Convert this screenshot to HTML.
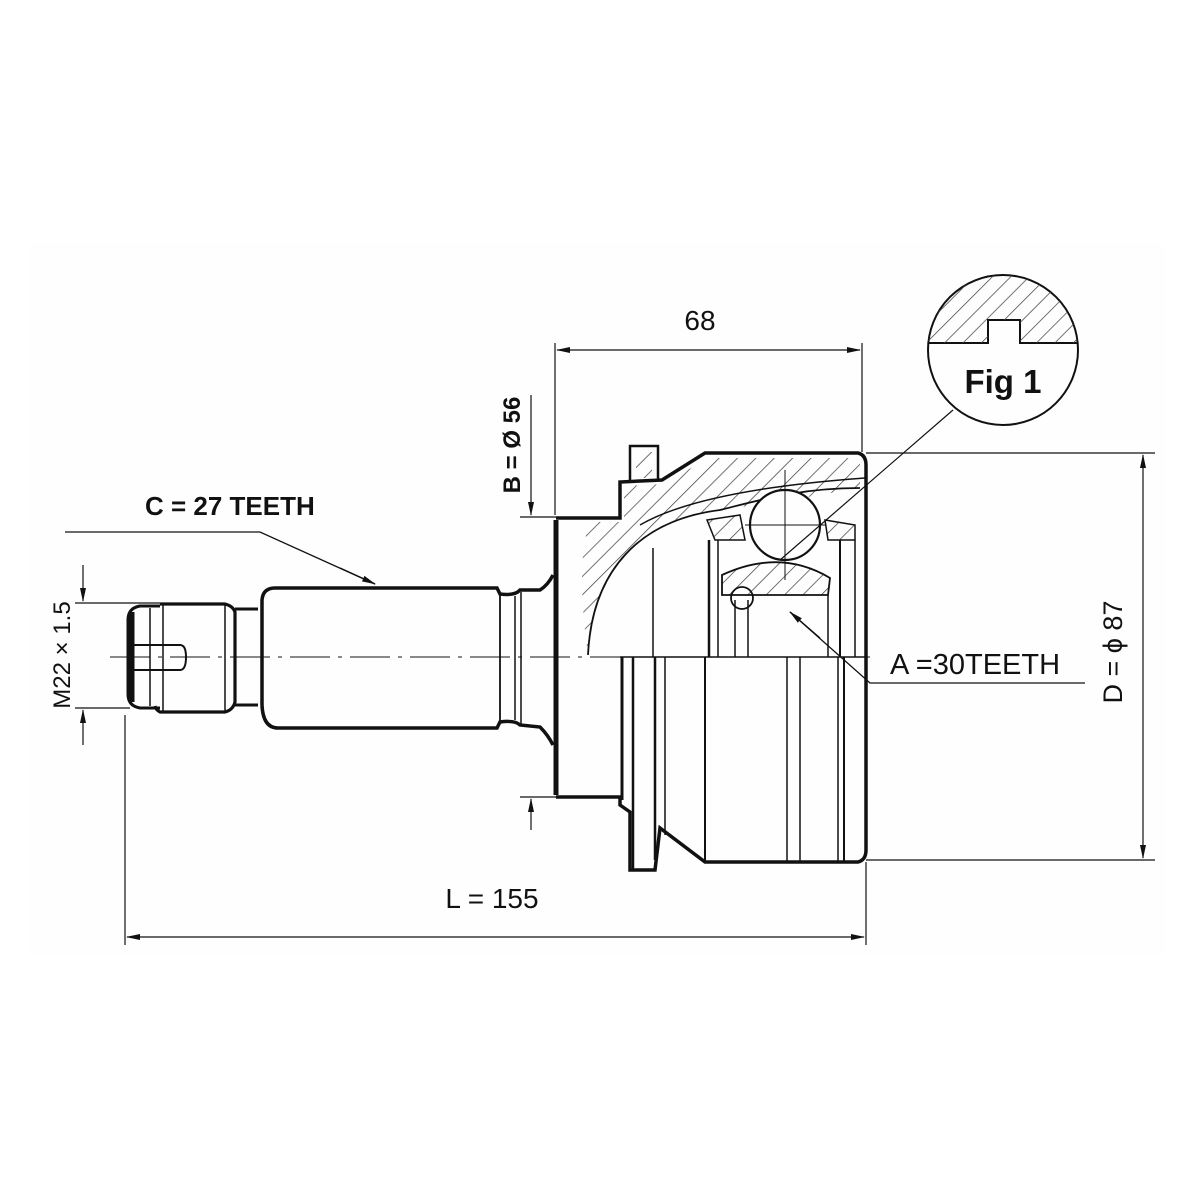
<!DOCTYPE html>
<html><head><meta charset="utf-8"><style>
html,body{margin:0;padding:0;background:#fff;}
svg{display:block;}
text{font-family:"Liberation Sans",sans-serif;fill:#111;}
</style></head><body>
<svg width="1200" height="1200" viewBox="0 0 1200 1200" xmlns="http://www.w3.org/2000/svg">
<defs>
<pattern id="h" patternUnits="userSpaceOnUse" width="13" height="13" patternTransform="rotate(45)">
<line x1="0" y1="0" x2="0" y2="13" stroke="#444" stroke-width="1.5"/>
</pattern>
<marker id="a" markerWidth="14" markerHeight="8" refX="13" refY="4" orient="auto" markerUnits="userSpaceOnUse">
<path d="M0,1 L14,4 L0,7 Z" fill="#111"/>
</marker>
</defs>
<rect x="0" y="0" width="1200" height="1200" fill="#fff"/>
<rect x="30" y="242" width="1135" height="712" fill="#fefefe"/>

<g stroke="#111" fill="none">
<line x1="110" y1="657" x2="870" y2="657" stroke-width="1" stroke-dasharray="40,8,4,8"/>

<path d="M160,606 L140,606 Q128,608 128,620 L128,694 Q128,706 140,708 L160,708" stroke-width="3"/>
<line x1="132" y1="612" x2="132" y2="702" stroke-width="5"/>
<line x1="150" y1="608" x2="150" y2="706" stroke-width="1.5"/>
<path d="M160,604 L225,604 Q233,606 235,612 L235,702 Q233,710 225,712 L160,712 Q156,710 155,706" stroke-width="3.2"/>
<line x1="163" y1="604" x2="163" y2="712" stroke-width="1.5"/>
<line x1="225" y1="604" x2="225" y2="712" stroke-width="1.5"/>
<path d="M132,645 L180,645 Q186,645 186,657 Q186,670 180,670 L132,670" stroke-width="2"/>
<path d="M235,609 L258,609 M235,705 L258,705" stroke-width="3"/>

<path d="M262,705 L262,600 Q263,588 275,588 L497,588 L500,594 Q515,596 520,590 L540,590 Q548,585 553,575 M262,705 Q263,728 278,728 L497,728 L500,722 Q515,720 520,725 L540,727 Q548,735 553,745" stroke-width="3.5"/>
<line x1="500" y1="594" x2="500" y2="722" stroke-width="1.8"/>
<line x1="515" y1="596" x2="515" y2="720" stroke-width="1.5"/>
<line x1="521" y1="592" x2="521" y2="724" stroke-width="1.5"/>

<line x1="556" y1="520" x2="556" y2="795" stroke-width="5"/>
<path d="M556,518 L620,518 L620,482 L662,480 L705,453 L858,453 Q866,455 866,465 L866,850 Q866,860 858,862 L705,862 L660,828 L655,870 L630,870 L630,812 L620,805 L620,797 L556,797" stroke-width="3.5"/>

<path d="M630,480 L630,446 L658,446 L658,480" stroke-width="2.5"/>
<rect x="636" y="452" width="16" height="26" fill="url(#h)" stroke="none"/>

<path d="M588,655 C592,570 640,520 720,510 L790,500 L860,488 L860,458 L708,458 L664,484 L624,486 L624,522 L590,522 Q575,560 588,655 Z" fill="url(#h)" stroke="none"/>
<path d="M588,655 C592,570 640,520 720,510 C760,500 800,488 860,488" stroke-width="1.8"/>
<path d="M640,525 Q700,490 865,478" stroke-width="1.5"/>
<path d="M722,575 Q780,548 830,578 L828,595 L722,595 Z" fill="url(#h)" stroke="#111" stroke-width="1.8"/>
<path d="M707,520 L740,515 L745,540 L715,540 Z M825,520 L855,525 L855,540 L828,540 Z" fill="url(#h)" stroke="#111" stroke-width="1.5"/>
<circle cx="785" cy="525" r="35" fill="#fefefe" stroke-width="2.2"/>
<line x1="785" y1="470" x2="785" y2="580" stroke-width="1"/>
<line x1="745" y1="525" x2="825" y2="525" stroke-width="1"/>
<circle cx="742" cy="598" r="11" stroke-width="1.8"/>
<line x1="653" y1="548" x2="653" y2="657" stroke-width="1.5"/>
<line x1="709" y1="540" x2="709" y2="657" stroke-width="2.5"/>
<line x1="718" y1="540" x2="718" y2="657" stroke-width="1.5"/>
<line x1="735" y1="600" x2="735" y2="657" stroke-width="1.5"/>
<line x1="748" y1="600" x2="748" y2="657" stroke-width="1.5"/>
<line x1="828" y1="595" x2="828" y2="657" stroke-width="1.5"/>
<line x1="840" y1="540" x2="840" y2="657" stroke-width="2"/>
<line x1="855" y1="540" x2="855" y2="657" stroke-width="1.5"/>
<line x1="622" y1="657" x2="622" y2="800" stroke-width="3"/>
<line x1="633" y1="657" x2="633" y2="870" stroke-width="2.5"/>
<line x1="655" y1="657" x2="655" y2="860" stroke-width="2.5"/>
<line x1="665" y1="657" x2="665" y2="835" stroke-width="1.5"/>
<line x1="705" y1="657" x2="705" y2="862" stroke-width="2"/>
<line x1="787" y1="657" x2="787" y2="862" stroke-width="1.5"/>
<line x1="800" y1="657" x2="800" y2="862" stroke-width="1.5"/>
<line x1="838" y1="657" x2="838" y2="862" stroke-width="1.5"/>
<line x1="844" y1="657" x2="844" y2="862" stroke-width="2"/>
<line x1="620" y1="657" x2="866" y2="657" stroke-width="1.5"/>

<circle cx="1003" cy="350" r="75" stroke-width="2"/>
<path d="M928,343 L988,343 L988,320 L1020,320 L1020,343 L1078,343" stroke-width="2"/>
<clipPath id="fc"><path d="M928,343 L988,343 L988,320 L1020,320 L1020,343 L1078,343 L1078,270 L928,270 Z"/></clipPath>
<circle cx="1003" cy="350" r="75" fill="url(#h)" stroke="none" clip-path="url(#fc)"/>
<line x1="953" y1="410" x2="780" y2="560" stroke-width="1.2"/>

<line x1="555" y1="343" x2="555" y2="515" stroke-width="1.2"/>
<line x1="862" y1="343" x2="862" y2="452" stroke-width="1.2"/>
<line x1="600" y1="350" x2="557" y2="350" stroke-width="1.2" marker-end="url(#a)"/>
<line x1="600" y1="350" x2="860" y2="350" stroke-width="1.2" marker-end="url(#a)"/>

<line x1="866" y1="453" x2="1155" y2="453" stroke-width="1.2"/>
<line x1="866" y1="860" x2="1155" y2="860" stroke-width="1.2"/>
<line x1="1143" y1="650" x2="1143" y2="455" stroke-width="1.2" marker-end="url(#a)"/>
<line x1="1143" y1="650" x2="1143" y2="858" stroke-width="1.2" marker-end="url(#a)"/>

<line x1="125" y1="715" x2="125" y2="945" stroke-width="1.2"/>
<line x1="866" y1="862" x2="866" y2="945" stroke-width="1.2"/>
<line x1="500" y1="937" x2="127" y2="937" stroke-width="1.2" marker-end="url(#a)"/>
<line x1="500" y1="937" x2="864" y2="937" stroke-width="1.2" marker-end="url(#a)"/>

<line x1="520" y1="517" x2="556" y2="517" stroke-width="1.2"/>
<line x1="520" y1="797" x2="556" y2="797" stroke-width="1.2"/>
<line x1="531" y1="395" x2="531" y2="515" stroke-width="1.2" marker-end="url(#a)"/>
<line x1="531" y1="830" x2="531" y2="799" stroke-width="1.2" marker-end="url(#a)"/>

<line x1="75" y1="603" x2="160" y2="603" stroke-width="1.2"/>
<line x1="75" y1="708" x2="130" y2="708" stroke-width="1.2"/>
<line x1="83" y1="565" x2="83" y2="601" stroke-width="1.2" marker-end="url(#a)"/>
<line x1="83" y1="745" x2="83" y2="710" stroke-width="1.2" marker-end="url(#a)"/>

<path d="M65,532 L260,532 L375,584" stroke-width="1.3"/>
<line x1="340" y1="568" x2="375" y2="584" stroke-width="1.3" marker-end="url(#a)"/>
<path d="M1085,683 L890,683 L870,683 L790,612" stroke-width="1.3"/>
<line x1="820" y1="638" x2="790" y2="612" stroke-width="1.3" marker-end="url(#a)"/>
</g>

<text x="700" y="330" font-size="28" text-anchor="middle">68</text>
<text x="492" y="908" font-size="28" text-anchor="middle">L = 155</text>
<text x="145" y="515" font-size="26" font-weight="bold">C = 27 TEETH</text>
<text x="890" y="674" font-size="29">A =30TEETH</text>
<text x="1003" y="393" font-size="33" text-anchor="middle" font-weight="bold" font-family="DejaVu Sans Condensed,Liberation Sans,sans-serif">Fig 1</text>
<text transform="translate(520,445) rotate(-90)" font-size="24" font-weight="bold" text-anchor="middle">B = Ø 56</text>
<text transform="translate(70,655) rotate(-90)" font-size="24" text-anchor="middle">M22 × 1.5</text>
<text transform="translate(1122,652) rotate(-90)" font-size="27" text-anchor="middle">D = ϕ 87</text>
</svg>
</body></html>
